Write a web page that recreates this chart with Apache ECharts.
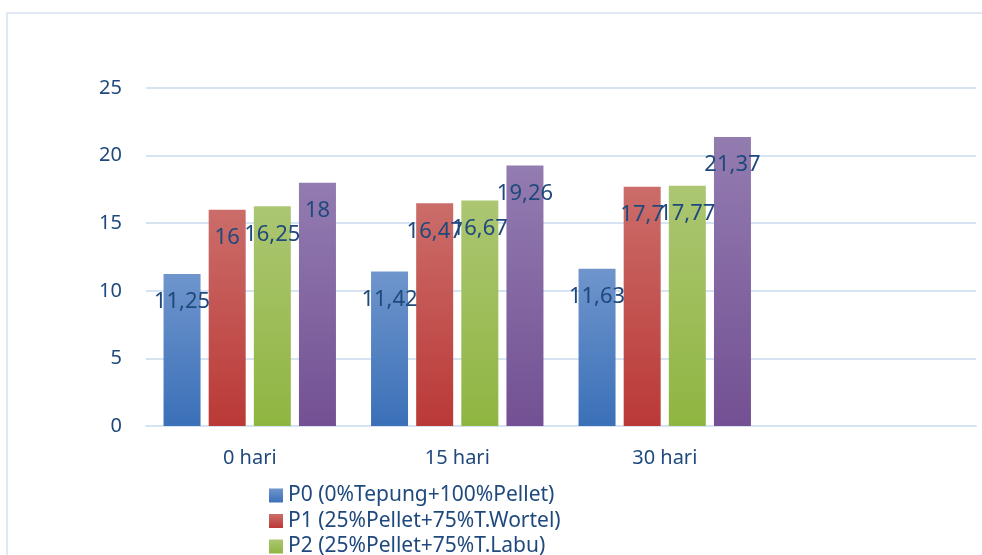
<!DOCTYPE html>
<html><head><meta charset="utf-8">
<script src="https://cdn.jsdelivr.net/npm/echarts@6/dist/echarts.min.js"></script>
<style>html,body{margin:0;padding:0;background:#fff}#c{width:982px;height:555px}</style>
</head><body><div id="c"></div>
<script>
const categories = ['0 hari', '15 hari', '30 hari', ''];
const seriesNames = ['P0 (0%Tepung+100%Pellet)', 'P1 (25%Pellet+75%T.Wortel)', 'P2 (25%Pellet+75%T.Labu)', 'P3 (50%Pellet+50%T.Labu)'];
const p0 = [11.25, 11.42, 11.63, null];
const p1 = [16, 16.47, 17.7, null];
const p2 = [16.25, 16.67, 17.77, null];
const p3 = [18, 19.26, 21.37, null];
const yTicks = [0, 5, 10, 15, 20, 25];

const FONT = '"Noto Sans", sans-serif';
const TXT = '#1f497d';
const grads = [['#6f95cc', '#3a70b8'], ['#cb6d6a', '#ba3936'], ['#acc672', '#8fb541'], ['#937cb0', '#735093']];
const vals = [p0, p1, p2, p3];

function grad(c) {
  return new echarts.graphic.LinearGradient(0, 0, 0, 1, [{offset: 0, color: c[0]}, {offset: 1, color: c[1]}]);
}

const chart = echarts.init(document.getElementById('c'), null, {renderer: 'canvas'});
chart.setOption({
  animation: false,
  backgroundColor: '#fff',
  graphic: [{type: 'rect', shape: {x: 7, y: 13, width: 1000, height: 600}, style: {fill: 'none', stroke: '#dfe8f4', lineWidth: 2}, silent: true}],
  grid: {left: 146, right: 6, top: 88, bottom: 129, containLabel: false},
  legend: {
    orient: 'vertical', left: 264, top: 480, height: 300, width: 600,
    itemWidth: 14, itemHeight: 14, itemGap: 4.5,
    icon: 'rect',
    data: seriesNames,
    textStyle: {fontFamily: FONT, fontSize: 21, color: TXT, lineHeight: 21}
  },
  xAxis: {
    type: 'category', data: categories,
    axisLine: {lineStyle: {color: '#d6e3f3', width: 2}},
    axisTick: {show: false},
    axisLabel: {fontFamily: FONT, fontSize: 20, color: TXT, margin: 22}
  },
  yAxis: {
    type: 'value', min: 0, max: 25, interval: 5,
    axisLine: {show: false}, axisTick: {show: false},
    splitLine: {lineStyle: {color: '#d6e3f3', width: 2}},
    axisLabel: {fontFamily: FONT, fontSize: 20, color: TXT, margin: 24,
      formatter: v => yTicks.includes(v) ? String(v) : ''}
  },
  series: seriesNames.map((n, i) => ({
    name: n, type: 'bar', data: vals[i],
    barWidth: 37, barGap: '22%',
    itemStyle: {color: grad(grads[i])},
    label: {
      show: true, position: 'insideTop', distance: 17,
      fontFamily: FONT, fontSize: 22, color: TXT,
      formatter: p => String(p.value).replace('.', ',')
    }
  }))
});
</script></body></html>
